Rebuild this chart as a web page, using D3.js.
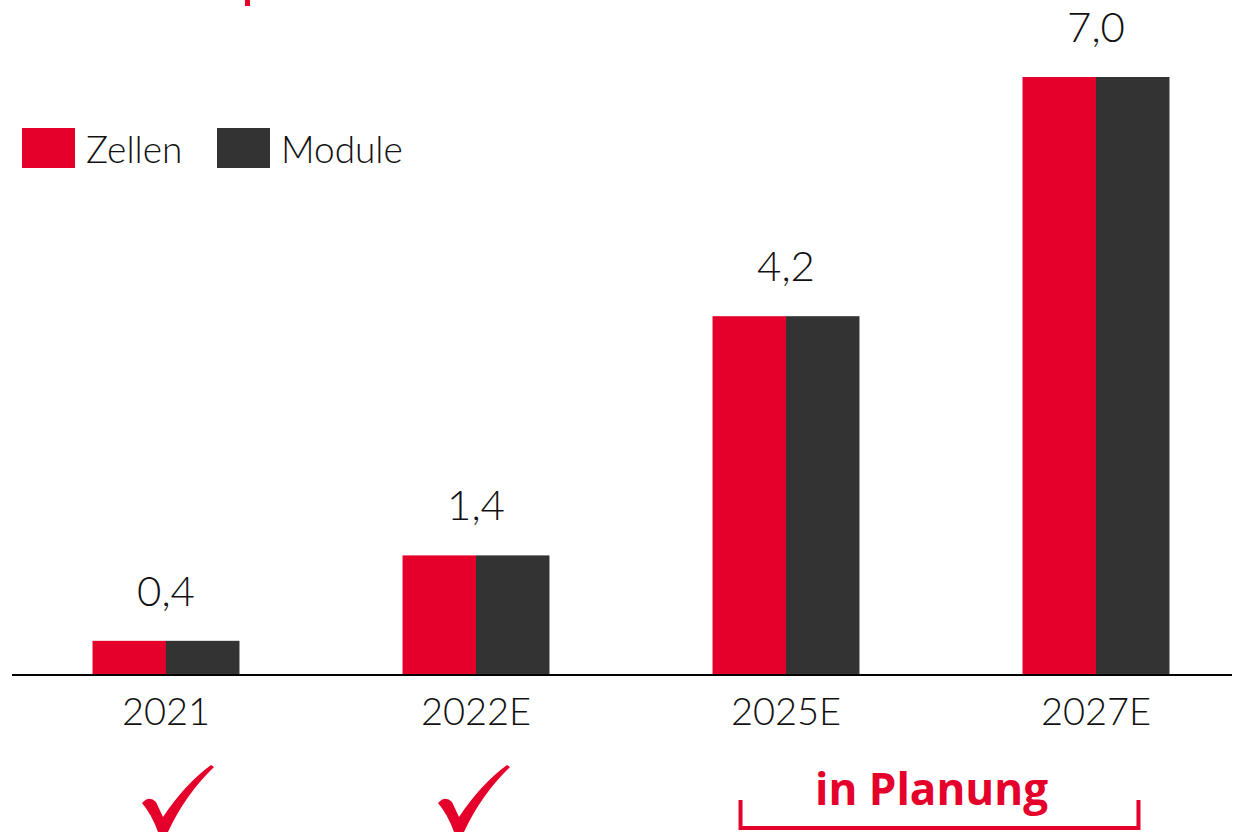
<!DOCTYPE html>
<html>
<head>
<meta charset="utf-8">
<script src="https://cdn.jsdelivr.net/npm/d3@7"></script>
<style>
  body { margin: 0; background: #fff; }
  svg { display: block; font-family: Lato, "Noto Sans", sans-serif; }
</style>
</head>
<body>
<div id="chart"></div>
<script>
const years = ['2021', '2022E', '2025E', '2027E'];
const series = ['Zellen', 'Module'];
const zellen = [0.4, 1.4, 4.2, 7.0];
const module = [0.4, 1.4, 4.2, 7.0];
const valueLabels = ['0,4', '1,4', '4,2', '7,0'];
const doneYears = ['2021', '2022E'];
const plannedYears = ['2025E', '2027E'];

const W = 1237, H = 832;
const red = '#e4002b', dark = '#333333';

const svg = d3.select('#chart').append('svg')
    .attr('width', W).attr('height', H);

const baseline = 675;

const x = d3.scaleBand()
    .domain(years)
    .range([11, 1251])
    .paddingInner(0.526)
    .paddingOuter(0.263);

const xs = d3.scaleBand()
    .domain(series)
    .range([0, x.bandwidth()]);

const y = d3.scaleLinear()
    .domain([0, 7])
    .range([baseline, 77]);

const color = d3.scaleOrdinal().domain(series).range([red, dark]);

// cut-off title remnant at the top
svg.append('rect').attr('x', 245).attr('y', 0).attr('width', 5).attr('height', 6).attr('fill', red);

const rows = years.map((yr, i) => ({ year: yr, Zellen: zellen[i], Module: module[i], label: valueLabels[i] }));

const g = svg.append('g').selectAll('g')
    .data(rows).join('g')
    .attr('transform', d => `translate(${x(d.year)},0)`);

g.selectAll('rect')
    .data(d => series.map(s => ({ key: s, value: d[s] })))
    .join('rect')
    .attr('x', d => xs(d.key))
    .attr('y', d => y(d.value))
    .attr('width', xs.bandwidth())
    .attr('height', d => baseline - y(d.value))
    .attr('fill', d => color(d.key));

g.append('text')
    .attr('x', x.bandwidth() / 2)
    .attr('y', d => y(Math.max(d.Zellen, d.Module)) - 35)
    .attr('text-anchor', 'middle')
    .attr('font-size', 42)
    .attr('font-weight', 300)
    .attr('fill', '#111')
    .text(d => d.label);

// axis
const xAxis = d3.axisBottom(x).tickSize(0).tickPadding(23);
const ax = svg.append('g')
    .attr('transform', `translate(0,${baseline})`)
    .call(xAxis);
ax.select('.domain').attr('d', 'M12,0H1232').attr('stroke', '#000').attr('stroke-width', 2);
ax.selectAll('text')
    .attr('font-size', 38)
    .attr('font-weight', 300)
    .attr('font-family', 'Lato, "Noto Sans", sans-serif')
    .attr('fill', '#111');

// legend
const legend = svg.append('g').attr('transform', 'translate(22,128)');
const li = legend.selectAll('g').data(series).join('g')
    .attr('transform', (d, i) => `translate(${i * 195},0)`);
li.append('rect').attr('width', 53).attr('height', 40).attr('fill', d => color(d));
li.append('text')
    .attr('x', 64).attr('y', 35)
    .attr('font-size', 37)
    .attr('font-weight', 300)
    .attr('fill', '#111')
    .text(d => d);

// check marks
const checkPath = 'M-29,38 Q-22,30 -15,37 L-8,52 Q14,19 40,0 L43,2 Q14,30 -3,67 L-13,67 Q-19,50 -29,38 Z';
svg.append('g').selectAll('path')
    .data(doneYears).join('path')
    .attr('transform', (d, i) => `translate(${x(d) + x.bandwidth() / 2 + (i === 0 ? 5 : -9)},765)`)
    .attr('d', checkPath)
    .attr('fill', red);

// "in Planung" bracket
const bx0 = x(plannedYears[0]) + 28, bx1 = x(plannedYears[1]) + x.bandwidth() - 31;
svg.append('path')
    .attr('d', `M${bx0},800V828H${bx1}V800`)
    .attr('fill', 'none')
    .attr('stroke', red)
    .attr('stroke-width', 4);
svg.append('text')
    .attr('x', (bx0 + bx1) / 2 - 8)
    .attr('y', 805)
    .attr('text-anchor', 'middle')
    .attr('font-family', '"Open Sans", "Noto Sans", sans-serif')
    .attr('font-weight', 700)
    .attr('font-size', 44)
    .attr('fill', red)
    .text('in Planung');
</script>
</body>
</html>
